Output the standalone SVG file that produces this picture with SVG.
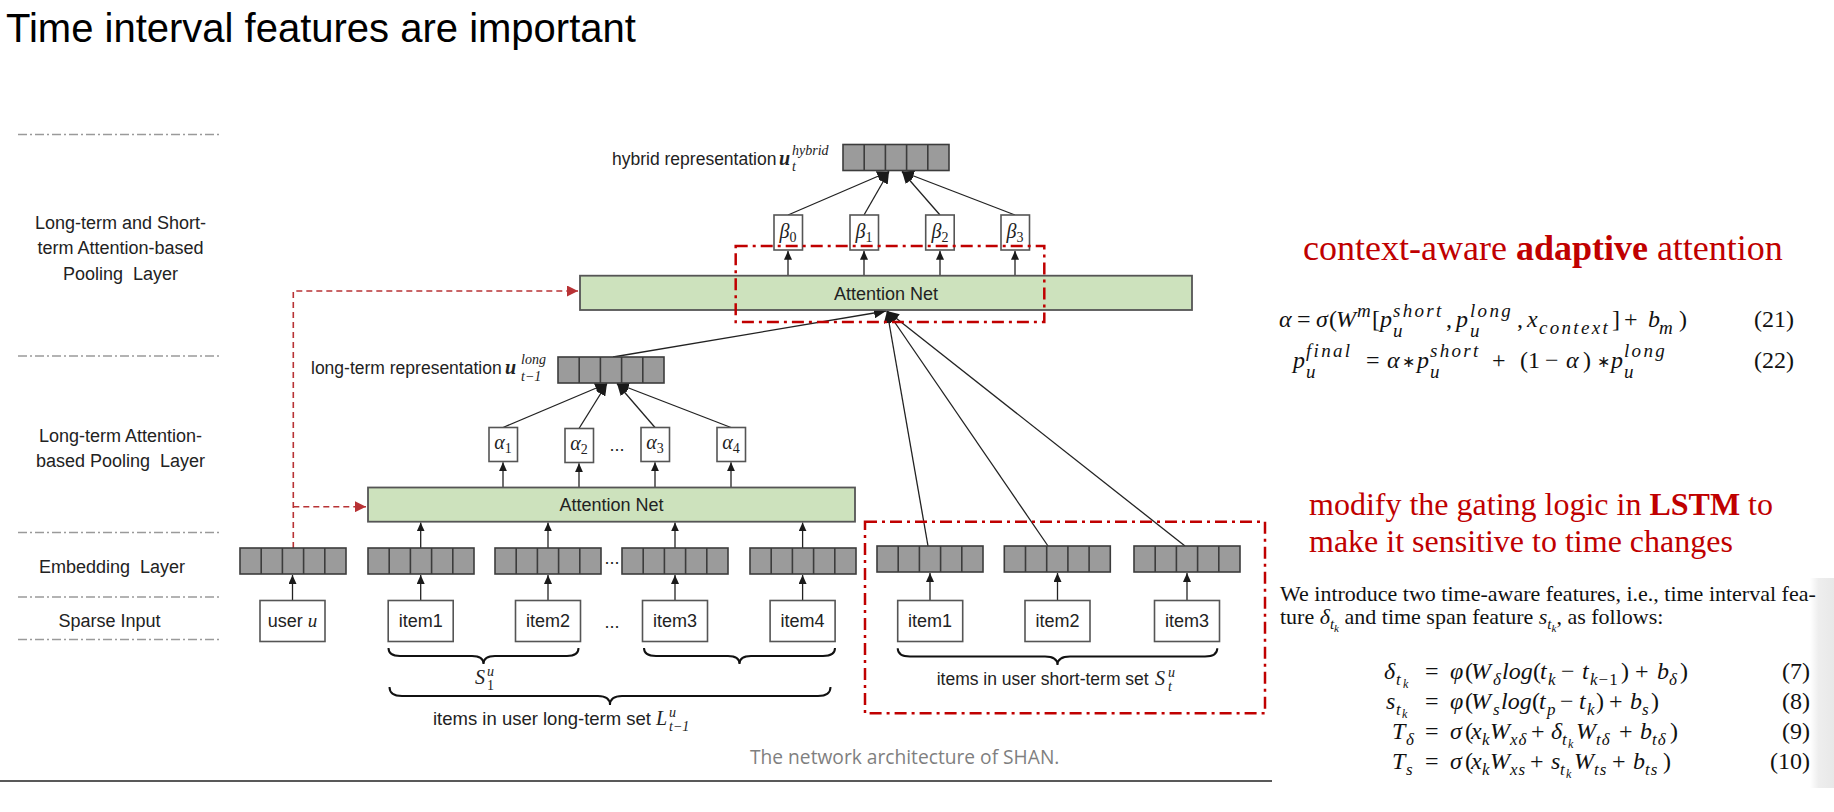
<svg xmlns="http://www.w3.org/2000/svg" width="1834" height="812" viewBox="0 0 1834 812">
<style>
.lbl{font-family:"Liberation Sans",Arial,sans-serif;font-size:17.5px;fill:#222;white-space:pre}
.cap{font-family:"Liberation Sans",Arial,sans-serif;font-size:18px;fill:#222;text-anchor:middle;white-space:pre}
.mi{font-family:"Liberation Serif","Times New Roman",serif;font-style:italic}
.ub{font-family:"Liberation Serif","Times New Roman",serif;font-style:italic;font-weight:bold;font-size:20px;fill:#222}
.sc{font-family:"Liberation Serif","Times New Roman",serif;font-style:italic;font-size:14px;fill:#222}
.up{font-style:normal}
.box{fill:#fff;stroke:#555;stroke-width:1.6}
.att{fill:#cde2bd;stroke:#555;stroke-width:1.8}
.conn{stroke:#222;stroke-width:1.3;fill:none}
.brace{stroke:#111;stroke-width:2;fill:none}
.reddash{stroke:#b83235;stroke-width:1.6;fill:none;stroke-dasharray:6 4}
.redbox{stroke:#c00000;stroke-width:2.5;fill:none;stroke-dasharray:12 5 3 5}
.layer{stroke:#9a9a9a;stroke-width:1.5;stroke-dasharray:9 3 2 3}
.red{font-family:"Liberation Serif","Times New Roman",serif;fill:#c00000}
.m{font-family:"Liberation Serif","Times New Roman",serif;font-size:24px;fill:#111;white-space:pre}
.p{font-family:"Liberation Serif","Times New Roman",serif;font-size:22px;fill:#111;white-space:pre}
.i{font-style:italic}
.s2{font-size:19px;letter-spacing:2.3px}
.s7{font-size:17px;letter-spacing:1px}
.ss{font-size:12px}
.ast{font-family:"DejaVu Sans",sans-serif;font-size:16px}
.num{text-anchor:end}
</style>
<defs>
<linearGradient id="shade" x1="0" y1="0" x2="1" y2="0">
<stop offset="0" stop-color="#ffffff"/>
<stop offset="0.35" stop-color="#eeeeee"/>
<stop offset="1" stop-color="#e8e8e8"/>
</linearGradient>
<marker id="ah" viewBox="0 0 10 9" refX="10" refY="4.5" markerWidth="9" markerHeight="8" markerUnits="userSpaceOnUse" orient="auto"><path d="M0,0 L10,4.5 L0,9 z" fill="#1a1a1a"/></marker>
<marker id="ahb" viewBox="0 0 10 9" refX="10" refY="4.5" markerWidth="12" markerHeight="11" markerUnits="userSpaceOnUse" orient="auto"><path d="M0,0 L10,4.5 L0,9 z" fill="#1a1a1a"/></marker>
<marker id="ahr" viewBox="0 0 10 10" refX="10" refY="5" markerWidth="11" markerHeight="11" markerUnits="userSpaceOnUse" orient="auto"><path d="M0,0 L10,5 L0,10 z" fill="#b83235"/></marker>
<g id="emb">
<rect x="0" y="0" width="106" height="26" fill="#9b9b9b" stroke="#3c3c3c" stroke-width="1.6"/>
<path d="M21.2 0V26M42.4 0V26M63.6 0V26M84.8 0V26" stroke="#3c3c3c" stroke-width="1.6"/>
</g>
</defs>
<rect width="1834" height="812" fill="#fff"/>
<rect x="1810" y="578" width="24" height="210" fill="url(#shade)"/>

<text x="6" y="42" font-family="Liberation Sans, Arial, sans-serif" font-size="40" fill="#000">Time interval features are important</text>

<g id="layers">
<line class="layer" x1="18" y1="134.5" x2="222" y2="134.5"/>
<line class="layer" x1="18" y1="356" x2="222" y2="356"/>
<line class="layer" x1="18" y1="532.5" x2="222" y2="532.5"/>
<line class="layer" x1="18" y1="597" x2="222" y2="597"/>
<line class="layer" x1="18" y1="639.5" x2="222" y2="639.5"/>
<text class="cap" x="120.5" y="229">Long-term and Short-</text>
<text class="cap" x="120.5" y="254">term Attention-based</text>
<text class="cap" x="120.5" y="280">Pooling  Layer</text>
<text class="cap" x="120.5" y="442">Long-term Attention-</text>
<text class="cap" x="120.5" y="467">based Pooling  Layer</text>
<text class="cap" x="112" y="573">Embedding  Layer</text>
<text class="cap" x="109.5" y="627">Sparse Input</text>
</g>

<g id="connectors">
<path class="reddash" d="M293.3 548V291H578" marker-end="url(#ahr)"/>
<path class="reddash" d="M293.3 506.7H366" marker-end="url(#ahr)"/>
<line class="conn" x1="292.5" y1="600.5" x2="292.5" y2="575" marker-end="url(#ah)"/>
<line class="conn" x1="420.7" y1="600.5" x2="420.7" y2="575" marker-end="url(#ah)"/>
<line class="conn" x1="548" y1="600.5" x2="548" y2="575" marker-end="url(#ah)"/>
<line class="conn" x1="675" y1="600.5" x2="675" y2="575" marker-end="url(#ah)"/>
<line class="conn" x1="802.6" y1="600.5" x2="802.6" y2="575" marker-end="url(#ah)"/>
<line class="conn" x1="930" y1="600.5" x2="930" y2="573" marker-end="url(#ah)"/>
<line class="conn" x1="1057.5" y1="600.5" x2="1057.5" y2="573" marker-end="url(#ah)"/>
<line class="conn" x1="1187" y1="600.5" x2="1187" y2="573" marker-end="url(#ah)"/>
<line class="conn" x1="420.7" y1="548" x2="420.7" y2="522.5" marker-end="url(#ah)"/>
<line class="conn" x1="548" y1="548" x2="548" y2="522.5" marker-end="url(#ah)"/>
<line class="conn" x1="675" y1="548" x2="675" y2="522.5" marker-end="url(#ah)"/>
<line class="conn" x1="802.6" y1="548" x2="802.6" y2="522.5" marker-end="url(#ah)"/>
<line class="conn" x1="503" y1="487.5" x2="503" y2="462.3" marker-end="url(#ah)"/>
<line class="conn" x1="579" y1="487.5" x2="579" y2="463.3" marker-end="url(#ah)"/>
<line class="conn" x1="655" y1="487.5" x2="655" y2="462.3" marker-end="url(#ah)"/>
<line class="conn" x1="731" y1="487.5" x2="731" y2="462.3" marker-end="url(#ah)"/>
<line class="conn" x1="503" y1="427.5" x2="607" y2="383.5" marker-end="url(#ahb)"/>
<line class="conn" x1="579" y1="428.5" x2="607" y2="383.5" marker-end="url(#ahb)"/>
<line class="conn" x1="655" y1="427.5" x2="617" y2="383.5" marker-end="url(#ahb)"/>
<line class="conn" x1="731" y1="427.5" x2="617" y2="383.5" marker-end="url(#ahb)"/>
<line class="conn" x1="788" y1="275.7" x2="788" y2="250.8" marker-end="url(#ah)"/>
<line class="conn" x1="864" y1="275.7" x2="864" y2="250.8" marker-end="url(#ah)"/>
<line class="conn" x1="940" y1="275.7" x2="940" y2="250.8" marker-end="url(#ah)"/>
<line class="conn" x1="1015" y1="275.7" x2="1015" y2="250.8" marker-end="url(#ah)"/>
<line class="conn" x1="788" y1="215" x2="889" y2="171.5" marker-end="url(#ahb)"/>
<line class="conn" x1="864" y1="215" x2="889" y2="171.5" marker-end="url(#ahb)"/>
<line class="conn" x1="940" y1="215" x2="902" y2="171.5" marker-end="url(#ahb)"/>
<line class="conn" x1="1015" y1="215" x2="902" y2="171.5" marker-end="url(#ahb)"/>
<line class="conn" x1="613" y1="357" x2="886" y2="311" marker-end="url(#ahb)"/>
<line class="conn" x1="928" y1="546" x2="887" y2="311" marker-end="url(#ahb)"/>
<line class="conn" x1="1048" y1="546" x2="887" y2="311" marker-end="url(#ahb)"/>
<line class="conn" x1="1185" y1="546" x2="887" y2="311" marker-end="url(#ahb)"/>
</g>

<g id="hybrid">
<use href="#emb" x="843" y="144.5"/>
<text class="lbl" x="612" y="165">hybrid representation</text>
<text class="ub" x="779" y="165">u</text>
<text class="sc" x="792" y="155">hybrid</text>
<text class="sc" x="792" y="171">t</text>
</g>

<g id="betas">
<rect class="box" x="774" y="215" width="28.5" height="35"/>
<rect class="box" x="850" y="215" width="28.5" height="35"/>
<rect class="box" x="925.7" y="215" width="28.5" height="35"/>
<rect class="box" x="1001" y="215" width="28.5" height="35"/>
<text class="mi" font-size="20" fill="#222" x="788" y="238" text-anchor="middle">β<tspan font-size="14" class="up" dy="4">0</tspan></text>
<text class="mi" font-size="20" fill="#222" x="864" y="238" text-anchor="middle">β<tspan font-size="14" class="up" dy="4">1</tspan></text>
<text class="mi" font-size="20" fill="#222" x="940" y="238" text-anchor="middle">β<tspan font-size="14" class="up" dy="4">2</tspan></text>
<text class="mi" font-size="20" fill="#222" x="1015" y="238" text-anchor="middle">β<tspan font-size="14" class="up" dy="4">3</tspan></text>
</g>

<g id="attention-top">
<rect class="att" x="580" y="275.7" width="612" height="34.3"/>
<text class="cap" x="886" y="299.5">Attention Net</text>
</g>

<g id="long-term-rep">
<use href="#emb" x="558" y="357"/>
<text class="lbl" x="311" y="374">long-term representation</text>
<text class="ub" x="505" y="374">u</text>
<text class="sc" x="521" y="364">long</text>
<text class="sc" x="521" y="381">t−1</text>
</g>

<g id="alphas">
<rect class="box" x="489" y="427.5" width="28.5" height="34"/>
<rect class="box" x="565" y="428.5" width="28.5" height="34"/>
<rect class="box" x="641" y="427.5" width="28.5" height="34"/>
<rect class="box" x="717" y="427.5" width="28.5" height="34"/>
<text class="mi" font-size="20" fill="#222" x="503" y="449" text-anchor="middle">α<tspan font-size="14" class="up" dy="4">1</tspan></text>
<text class="mi" font-size="20" fill="#222" x="579" y="450" text-anchor="middle">α<tspan font-size="14" class="up" dy="4">2</tspan></text>
<text class="mi" font-size="20" fill="#222" x="655" y="449" text-anchor="middle">α<tspan font-size="14" class="up" dy="4">3</tspan></text>
<text class="mi" font-size="20" fill="#222" x="731" y="449" text-anchor="middle">α<tspan font-size="14" class="up" dy="4">4</tspan></text>
<text class="cap" x="617" y="451">...</text>
</g>

<g id="attention-low">
<rect class="att" x="368" y="487.5" width="487" height="34.2"/>
<text class="cap" x="611.5" y="511">Attention Net</text>
</g>

<g id="embeddings">
<use href="#emb" x="240" y="548"/>
<use href="#emb" x="368" y="548"/>
<use href="#emb" x="495" y="548"/>
<use href="#emb" x="622" y="548"/>
<use href="#emb" x="750" y="548"/>
<text class="cap" x="612" y="564">...</text>
</g>

<g id="short-embeddings">
<use href="#emb" x="877" y="546"/>
<use href="#emb" x="1004.3" y="546"/>
<use href="#emb" x="1134" y="546"/>
</g>

<g id="user">
<rect class="box" x="260" y="600.5" width="65" height="41"/>
<text class="cap" x="292.5" y="627">user <tspan class="mi" font-size="19">u</tspan></text>
</g>

<g id="long-items">
<rect class="box" x="388.2" y="600.5" width="65" height="41"/>
<rect class="box" x="515.5" y="600.5" width="65" height="41"/>
<rect class="box" x="642.5" y="600.5" width="65" height="41"/>
<rect class="box" x="770.1" y="600.5" width="65" height="41"/>
<text class="cap" x="420.7" y="627">item1</text>
<text class="cap" x="548" y="627">item2</text>
<text class="cap" x="675" y="627">item3</text>
<text class="cap" x="802.6" y="627">item4</text>
<text class="cap" x="612" y="628">...</text>
<path class="brace" d="M388.5 648Q388.5 656 400 656L472 656Q483.5 656 483.5 664Q483.5 656 495 656L567 656Q578.5 656 578.5 648"/>
<path class="brace" d="M644 648Q644 656 656 656L728 656Q739.5 656 739.5 664Q739.5 656 751 656L823 656Q835 656 835 648"/>
<text class="mi" font-size="20" fill="#222" x="475" y="684">S</text>
<text class="sc" x="487" y="676">u</text>
<text class="sc up" x="487" y="690">1</text>
<path class="brace" d="M389.5 687Q389.5 696 402 696L598 696Q610 696 610 705Q610 696 622 696L818 696Q830.5 696 830.5 687"/>
<text class="lbl" x="433" y="725" style="font-size:18.5px">items in user long-term set</text>
<text class="mi" font-size="20" fill="#222" x="656" y="725">L</text>
<text class="sc" x="669" y="717">u</text>
<text class="sc" x="669" y="731">t−1</text>
</g>

<g id="short-items">
<rect class="box" x="897.7" y="600.5" width="65" height="41"/>
<rect class="box" x="1025" y="600.5" width="65" height="41"/>
<rect class="box" x="1154.5" y="600.5" width="65" height="41"/>
<text class="cap" x="930" y="627">item1</text>
<text class="cap" x="1057.5" y="627">item2</text>
<text class="cap" x="1187" y="627">item3</text>
<path class="brace" d="M897.7 648.3Q897.7 656.5 910 656.5L1045 656.5Q1057.5 656.5 1057.5 665Q1057.5 656.5 1070 656.5L1205 656.5Q1217.3 656.5 1217.3 648.3"/>
<text class="lbl" x="936.7" y="685">items in user short-term set </text>
<text class="mi" font-size="20" fill="#222" x="1155" y="685">S</text>
<text class="sc" x="1168" y="677">u</text>
<text class="sc" x="1168" y="691">t</text>
</g>

<g id="highlights">
<rect class="redbox" x="735.7" y="246" width="308.6" height="76"/>
<rect class="redbox" x="865" y="521.7" width="400" height="191.6"/>
</g>

<text x="750" y="764" font-family="Open Sans, Liberation Sans, sans-serif" font-size="19.2" fill="#7f7f7f">The network architecture of SHAN.</text>
<line x1="0" y1="781" x2="1272" y2="781" stroke="#222" stroke-width="1.6"/>

<g id="right-text">
<text class="red" x="1303" y="260" font-size="36">context-aware <tspan font-weight="bold">adaptive</tspan> attention</text>

<text class="m" y="327"><tspan x="1279" class="i">α</tspan><tspan x="1297">=</tspan><tspan x="1316" class="i">σ</tspan><tspan x="1329">(</tspan><tspan x="1336" class="i">W</tspan><tspan x="1357" y="317" class="i s2">m</tspan><tspan x="1372" y="327">[</tspan><tspan x="1380" class="i">p</tspan><tspan x="1393" y="317" class="i s2">short</tspan><tspan x="1393" y="337" class="i s2">u</tspan><tspan x="1446" y="327">,</tspan><tspan x="1456" class="i">p</tspan><tspan x="1470" y="317" class="i s2">long</tspan><tspan x="1470" y="337" class="i s2">u</tspan><tspan x="1517" y="327">,</tspan><tspan x="1527" class="i">x</tspan><tspan x="1539" y="334" class="i s2">context</tspan><tspan x="1612" y="327">]</tspan><tspan x="1624">+</tspan><tspan x="1648" class="i">b</tspan><tspan x="1659" y="334" class="i s2">m</tspan><tspan x="1679" y="327">)</tspan></text>
<text class="m num" x="1794" y="327">(21)</text>

<text class="m" y="368"><tspan x="1293" class="i">p</tspan><tspan x="1306" y="357" class="i s2">final</tspan><tspan x="1306" y="378" class="i s2">u</tspan><tspan x="1366" y="368">=</tspan><tspan x="1387" class="i">α</tspan><tspan x="1402" y="367" class="ast">∗</tspan><tspan x="1417" y="368" class="i">p</tspan><tspan x="1430" y="357" class="i s2">short</tspan><tspan x="1430" y="378" class="i s2">u</tspan><tspan x="1492" y="368">+</tspan><tspan x="1520">(</tspan><tspan x="1528">1</tspan><tspan x="1545">−</tspan><tspan x="1566" class="i">α</tspan><tspan x="1583">)</tspan><tspan x="1597" y="367" class="ast">∗</tspan><tspan x="1611" y="368" class="i">p</tspan><tspan x="1624" y="357" class="i s2">long</tspan><tspan x="1624" y="378" class="i s2">u</tspan></text>
<text class="m num" x="1794" y="368">(22)</text>

<text class="red" x="1309" y="514.5" font-size="32">modify the gating logic in <tspan font-weight="bold">LSTM</tspan> to</text>
<text class="red" x="1309" y="551.7" font-size="32">make it sensitive to time changes</text>

<text class="p" x="1280" y="601">We introduce two time-aware features, i.e., time interval fea-</text>
<text class="p" x="1280" y="624">ture <tspan class="i">δ</tspan><tspan class="i" font-size="15" dy="5">t</tspan><tspan class="i" font-size="11" dy="3">k</tspan><tspan dy="-8"> and time span feature </tspan><tspan class="i">s</tspan><tspan class="i" font-size="15" dy="5">t</tspan><tspan class="i" font-size="11" dy="3">k</tspan><tspan dy="-8">, as follows:</tspan></text>

<text class="m" y="679"><tspan x="1384" class="i">δ</tspan><tspan x="1396" y="685" class="i s7">t</tspan><tspan x="1403" y="688" class="i ss">k</tspan><tspan x="1425" y="679">=</tspan><tspan x="1450" class="i">φ</tspan><tspan x="1465">(</tspan><tspan x="1471" class="i">W</tspan><tspan x="1493" y="685" class="i s7">δ</tspan><tspan x="1502" y="679" class="i">log</tspan><tspan x="1533">(</tspan><tspan x="1540" class="i">t</tspan><tspan x="1548" y="685" class="i s7">k</tspan><tspan x="1561" y="679">−</tspan><tspan x="1582" class="i">t</tspan><tspan x="1590" y="685" class="s7"><tspan class="i">k</tspan>−1</tspan><tspan x="1621" y="679">)</tspan><tspan x="1635">+</tspan><tspan x="1657" class="i">b</tspan><tspan x="1669" y="685" class="i s7">δ</tspan><tspan x="1680" y="679">)</tspan></text>
<text class="m num" x="1810" y="679">(7)</text>

<text class="m" y="709"><tspan x="1386" class="i">s</tspan><tspan x="1396" y="715" class="i s7">t</tspan><tspan x="1402" y="718" class="i ss">k</tspan><tspan x="1425" y="709">=</tspan><tspan x="1450" class="i">φ</tspan><tspan x="1465">(</tspan><tspan x="1471" class="i">W</tspan><tspan x="1493" y="715" class="i s7">s</tspan><tspan x="1501" y="709" class="i">log</tspan><tspan x="1532">(</tspan><tspan x="1539" class="i">t</tspan><tspan x="1547" y="715" class="i s7">p</tspan><tspan x="1560" y="709">−</tspan><tspan x="1579" class="i">t</tspan><tspan x="1587" y="715" class="i s7">k</tspan><tspan x="1596" y="709">)</tspan><tspan x="1609">+</tspan><tspan x="1630" class="i">b</tspan><tspan x="1642" y="715" class="i s7">s</tspan><tspan x="1651" y="709">)</tspan></text>
<text class="m num" x="1810" y="709">(8)</text>

<text class="m" y="739"><tspan x="1392" class="i">T</tspan><tspan x="1406" y="745" class="i s7">δ</tspan><tspan x="1425" y="739">=</tspan><tspan x="1450" class="i">σ</tspan><tspan x="1465">(</tspan><tspan x="1471" class="i">x</tspan><tspan x="1482" y="745" class="i s7">k</tspan><tspan x="1490" y="739" class="i">W</tspan><tspan x="1510" y="745" class="i s7">xδ</tspan><tspan x="1531" y="739">+</tspan><tspan x="1551" class="i">δ</tspan><tspan x="1562" y="745" class="i s7">t</tspan><tspan x="1568" y="748" class="i ss">k</tspan><tspan x="1576" y="739" class="i">W</tspan><tspan x="1596" y="745" class="i s7">tδ</tspan><tspan x="1619" y="739">+</tspan><tspan x="1640" class="i">b</tspan><tspan x="1652" y="745" class="i s7">tδ</tspan><tspan x="1670" y="739">)</tspan></text>
<text class="m num" x="1810" y="739">(9)</text>

<text class="m" y="769"><tspan x="1392" class="i">T</tspan><tspan x="1406" y="775" class="i s7">s</tspan><tspan x="1425" y="769">=</tspan><tspan x="1450" class="i">σ</tspan><tspan x="1465">(</tspan><tspan x="1471" class="i">x</tspan><tspan x="1482" y="775" class="i s7">k</tspan><tspan x="1490" y="769" class="i">W</tspan><tspan x="1510" y="775" class="i s7">xs</tspan><tspan x="1530" y="769">+</tspan><tspan x="1551" class="i">s</tspan><tspan x="1560" y="775" class="i s7">t</tspan><tspan x="1566" y="778" class="i ss">k</tspan><tspan x="1574" y="769" class="i">W</tspan><tspan x="1594" y="775" class="i s7">ts</tspan><tspan x="1612" y="769">+</tspan><tspan x="1633" class="i">b</tspan><tspan x="1645" y="775" class="i s7">ts</tspan><tspan x="1663" y="769">)</tspan></text>
<text class="m num" x="1810" y="769">(10)</text>
</g>
</svg>
